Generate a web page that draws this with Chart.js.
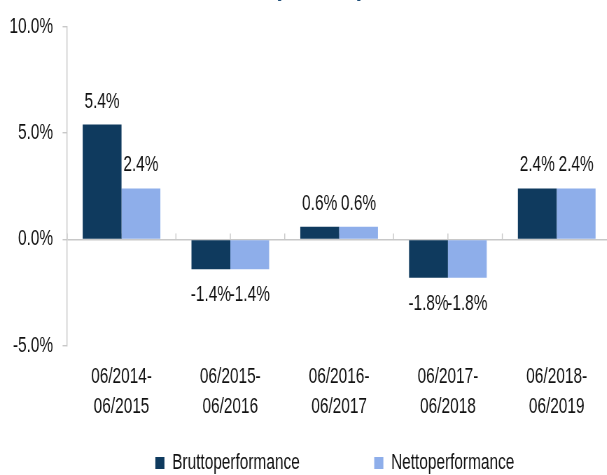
<!DOCTYPE html>
<html>
<head>
<meta charset="utf-8">
<script src="https://cdn.jsdelivr.net/npm/chart.js@4.4.1/dist/chart.umd.min.js"></script>
<style>
  html, body { margin: 0; padding: 0; background: #fff; overflow: hidden; }
  /* the picture is drawn wide and squeezed to get the narrow lettering */
  #barChart { display: block; transform: scaleX(0.7); transform-origin: 0 0; }
</style>
</head>
<body>
<canvas id="barChart" width="886" height="485"></canvas>
<script>
// data
var periods = [['06/2014-', '06/2015'], ['06/2015-', '06/2016'], ['06/2016-', '06/2017'], ['06/2017-', '06/2018'], ['06/2018-', '06/2019']];
var brutto = [5.4, -1.4, 0.6, -1.8, 2.4];
var netto = [2.4, -1.4, 0.6, -1.8, 2.4];
var yTicks = [-5, 0, 5, 10];
var titleText = '(in EUR)';

var font = "'Liberation Sans', Arial, sans-serif";
// spacing between the two legend entries
var gap1 = '\u00A0'.repeat(15);
var gap2 = '\u00A0'.repeat(2);

// value labels above / below the bars
var valueLabels = {
    id: 'valueLabels',
    afterDatasetsDraw: function(chart) {
        var c = chart.ctx;
        c.save();
        c.font = '22px ' + font;
        c.fillStyle = '#111';
        c.textAlign = 'center';
        c.textBaseline = 'middle';
        chart.data.datasets.forEach(function(ds, i) {
            chart.getDatasetMeta(i).data.forEach(function(bar, j) {
                var v = ds.data[j];
                var y = v >= 0 ? bar.y - 23 : bar.y + 26;
                c.fillText(v.toFixed(1) + '%', bar.x, y);
            });
        });
        c.restore();
    }
};

// small marks on the zero line
var zeroMarks = {
    id: 'zeroMarks',
    beforeDatasetsDraw: function(chart) {
        var c = chart.ctx, xs = chart.scales.x, y0 = chart.scales.y.getPixelForValue(0);
        var w = (xs.right - xs.left) / periods.length;
        c.save();
        c.strokeStyle = '#C8C8C8';
        c.lineWidth = 1.4;
        for (var i = 0; i < periods.length; i++) {
            var cx = xs.getPixelForValue(i);
            [cx - w / 2, cx].forEach(function(x) {
                c.beginPath();
                c.moveTo(x, y0);
                c.lineTo(x, y0 - 6);
                c.stroke();
            });
        }
        c.restore();
    }
};

// title, mostly above the visible area
var topTitle = {
    id: 'topTitle',
    afterDraw: function(chart) {
        var c = chart.ctx;
        c.save();
        c.font = 'bold 33px ' + font;
        c.fillStyle = '#1F4E79';
        c.textAlign = 'center';
        c.textBaseline = 'alphabetic';
        c.fillText(titleText, 456, -6);
        c.restore();
    }
};

var ctx = document.getElementById('barChart').getContext('2d');

var barChart = new Chart(ctx, {
    type: 'bar',
    data: {
        labels: periods,
        datasets: [
            {
                label: 'Bruttoperformance' + gap1,
                data: brutto,
                backgroundColor: '#0F3A5E',
                borderWidth: 0
            },
            {
                label: 'Nettoperformance' + gap2,
                data: netto,
                backgroundColor: '#8EAEEA',
                borderWidth: 0
            }
        ]
    },
    options: {
        responsive: false,
        animation: false,
        layout: { padding: { top: 15.5, right: 13, bottom: 1, left: 0 } },
        datasets: { bar: { categoryPercentage: 0.714, barPercentage: 1 } },
        scales: {
            x: {
                grid: { display: false, drawTicks: false },
                border: { display: false },
                ticks: {
                    color: '#111',
                    font: { family: font, size: 22, lineHeight: '30px' },
                    padding: 15.7,
                    maxRotation: 0
                }
            },
            y: {
                min: -5,
                max: 10,
                afterBuildTicks: function(axis) {
                    axis.ticks = yTicks.map(function(v) { return { value: v }; });
                },
                grid: {
                    color: function(c) { return c.tick && c.tick.value === 0 ? '#C8C8C8' : 'rgba(0,0,0,0)'; },
                    tickColor: '#C8C8C8',
                    tickLength: 6.5,
                    lineWidth: 1.4
                },
                border: { color: '#C8C8C8', width: 1.4 },
                ticks: {
                    color: '#111',
                    font: { family: font, size: 22 },
                    padding: 13.5,
                    callback: function(v) { return v.toFixed(1) + '%'; }
                }
            }
        },
        plugins: {
            legend: {
                position: 'bottom',
                fullSize: false,
                labels: {
                    boxWidth: 13,
                    boxHeight: 12,
                    padding: 14.8,
                    color: '#111',
                    font: { family: font, size: 22 }
                }
            },
            tooltip: { enabled: false }
        }
    },
    plugins: [valueLabels, zeroMarks, topTitle]
});
</script>
</body>
</html>
